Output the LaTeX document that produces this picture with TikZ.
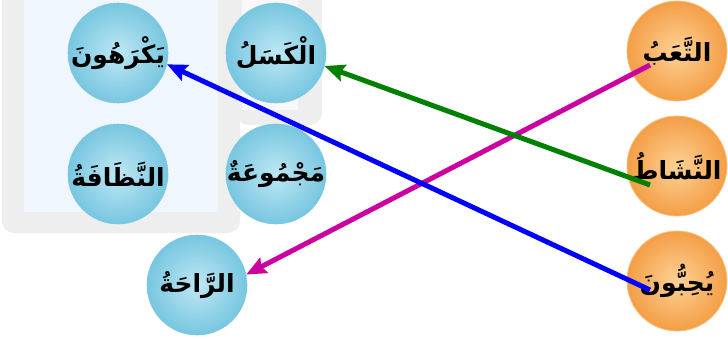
\documentclass[tikz,border=0pt]{standalone}
\usepackage{fontspec}
\newfontfamily\arabicfont[Script=Arabic]{DejaVu Sans}
\TeXXeTstate=1
\usetikzlibrary{arrows.meta,calc}
\definecolor{bin}{RGB}{190,232,244}
\definecolor{bout}{RGB}{120,198,224}
\definecolor{bedge}{RGB}{125,200,225}
\definecolor{oin}{RGB}{253,210,150}
\definecolor{oout}{RGB}{244,158,70}
\definecolor{oedge}{RGB}{250,190,120}
\definecolor{lmag}{RGB}{204,0,160}
\definecolor{lgreen}{RGB}{0,128,0}
\definecolor{lblue}{RGB}{0,0,255}
\definecolor{wmgrey}{RGB}{238,238,238}
\definecolor{wmpanel}{RGB}{240,246,253}
\begin{document}
\begin{tikzpicture}[x=1pt,y=-1pt,
  word/.style={font=\arabicfont\bfseries\fontsize{25}{28}\selectfont,inner sep=0pt},
  ball/.style={circle,minimum size=100pt,inner sep=0pt},
  blueball/.style={ball,shading=radial,inner color=bin,outer color=bout,draw=bedge,line width=0.6pt},
  orangeball/.style={ball,shading=radial,inner color=oin,outer color=oout,draw=oedge,line width=0.8pt},
  link/.style={line width=5pt,-{Stealth[length=20pt,width=17pt,inset=3pt]}},
  wm/.style={fill=wmgrey,draw=none,rounded corners=12pt}]
\useasboundingbox (0,0) rectangle (728,338);
% faint background panels
\fill[wm] (2,-20) rectangle (240,233);
\fill[wmpanel] (24,-5) rectangle (218,212);
\fill[wm] (236,-20) rectangle (322,125);
\fill[white!60!wmgrey] (242,-5) rectangle (298,110);
% left (blue) nodes
\node[blueball,label={[word]center:\beginR يَكْرَهُونَ\endR}] (k1) at (118,53) {};
\node[blueball,label={[word]center:\beginR الْكَسَلُ\endR}] (k2) at (276,53) {};
\node[blueball,label={[word]center:\beginR النَّظَافَةُ\endR}] (k3) at (118,174) {};
\node[blueball,label={[word]center:\beginR مَجْمُوعَةٌ\endR}] (k4) at (276,174) {};
\node[blueball,label={[word]center:\beginR الرَّاحَةُ\endR}] (k5) at (197,285) {};
% right (orange) nodes
\node[orangeball,label={[word]center:\beginR التَّعَبُ\endR}] (t1) at (677,51) {};
\node[orangeball,label={[word]center:\beginR النَّشَاطُ\endR}] (t2) at (677,166) {};
\node[orangeball,label={[word]center:\beginR يُحِبُّونَ\endR}] (t3) at (677,281) {};
% start points of connectors
\coordinate (s1) at ($(t1.center)+(-27,14)$);
\coordinate (s2) at ($(t2.center)+(-27,19)$);
\coordinate (s3) at ($(t3.center)+(-27,9)$);
% connectors
\draw[link,lmag] (s1) -- (k5.12);
\draw[link,lgreen] (s2) -- (k2.-15);
\draw[link,lblue] (s3) -- (k1.-13);
\end{tikzpicture}
\end{document}
